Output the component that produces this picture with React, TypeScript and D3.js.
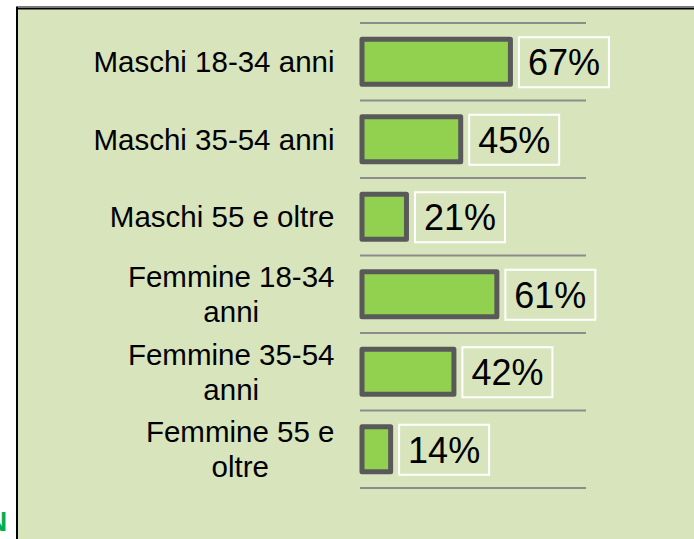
import React, { useMemo } from "react";
import * as d3 from "d3";

const categories: string[] = [
  "Maschi 18-34 anni",
  "Maschi 35-54 anni",
  "Maschi 55 e oltre",
  "Femmine 18-34 anni",
  "Femmine 35-54 anni",
  "Femmine 55 e oltre",
];
const values: number[] = [67, 45, 21, 61, 42, 14];

const W = 694;
const H = 539;
const FONT = "'Liberation Sans', Arial, sans-serif";
const LABEL_FS = 29.5;
const VALUE_FS = 36;
const LINE_H = 35;
const MAX_LABEL_W = 248;

function measureText(s: string): number {
  let ctx: CanvasRenderingContext2D | null = null;
  try {
    ctx = document.createElement("canvas").getContext("2d");
  } catch (e) {
    ctx = null;
  }
  if (ctx) {
    ctx.font = `${LABEL_FS}px ${FONT}`;
    return ctx.measureText(s).width;
  }
  return s.length * LABEL_FS * 0.5;
}

function wrap(text: string): string[] {
  const words = text.split(" ");
  const lines: string[] = [];
  let cur = "";
  for (const w of words) {
    const t = cur ? cur + " " + w : w;
    if (cur && measureText(t) > MAX_LABEL_W) {
      lines.push(cur);
      cur = w;
    } else cur = t;
  }
  if (cur) lines.push(cur);
  return lines;
}

export default function App() {
  const y = d3.scaleBand<string>().domain(categories).range([23, 488]).padding(0);
  const x = d3.scaleLinear().domain([0, 100]).range([360, 586]);
  const barH = 45;
  const stroke = 5;
  const boxW = 90;
  const boxH = 50;
  const labelRight = 334.5;
  const wrapped = useMemo(() => categories.map((c) => wrap(c)), []);
  const gridYs = [...categories.map((c) => y(c) as number), y.range()[1]];

  return (
    <svg
      width={W}
      height={H}
      style={{ position: "fixed", left: 0, top: 0, display: "block" }}
      fontFamily={FONT}
    >
      <rect x={0} y={0} width={W} height={H} fill="#ffffff" />
      <rect x={16} y={7} width={W - 16} height={H - 7} fill="#d8e4bc" />
      <rect x={16} y={6} width={W - 16} height={2} fill="#7a7a7a" />
      <rect x={16} y={8} width={W - 16} height={1.5} fill="#000000" />
      <rect x={16} y={7} width={2} height={H - 7} fill="#000000" />
      <text x={-13} y={531} fontSize={28} fontWeight="bold" fill="#00b050" fontFamily={FONT}>
        N
      </text>

      {gridYs.map((gy, i) => (
        <line
          key={"g" + i}
          x1={x(0)}
          x2={x(100)}
          y1={gy}
          y2={gy}
          stroke="#8c8c8c"
          strokeWidth={2}
        />
      ))}

      {categories.map((c, i) => {
        const cy = (y(c) as number) + y.bandwidth() / 2;
        const v = values[i];
        const bx = x(0) + 2;
        const bw = x(v) - x(0) - 3;
        const outerRight = bx + bw + stroke / 2;
        const boxX = outerRight + 6;
        const lines = wrapped[i];
        const n = lines.length;
        const maxW = Math.max(...lines.map((l) => measureText(l)));
        const blockCenter = labelRight - maxW / 2;
        return (
          <g key={c}>
            <rect
              x={bx}
              y={cy - barH / 2}
              width={bw}
              height={barH}
              fill="#92d050"
              stroke="#595959"
              strokeWidth={stroke}
              strokeLinejoin="round"
            />
            <rect
              x={boxX}
              y={cy - boxH / 2 + 0.5}
              width={boxW}
              height={boxH}
              fill="none"
              stroke="#ffffff"
              strokeWidth={2}
            />
            <text
              x={boxX + boxW / 2}
              y={cy + 13.5}
              fontSize={VALUE_FS}
              textAnchor="middle"
              fill="#000000"
            >
              {v + "%"}
            </text>
            {lines.map((l, k) => (
              <text
                key={k}
                x={n > 1 ? blockCenter : labelRight}
                y={cy + 0.358 * LABEL_FS + (k - (n - 1) / 2) * LINE_H}
                fontSize={LABEL_FS}
                textAnchor={n > 1 ? "middle" : "end"}
                fill="#000000"
              >
                {l}
              </text>
            ))}
          </g>
        );
      })}
    </svg>
  );
}
